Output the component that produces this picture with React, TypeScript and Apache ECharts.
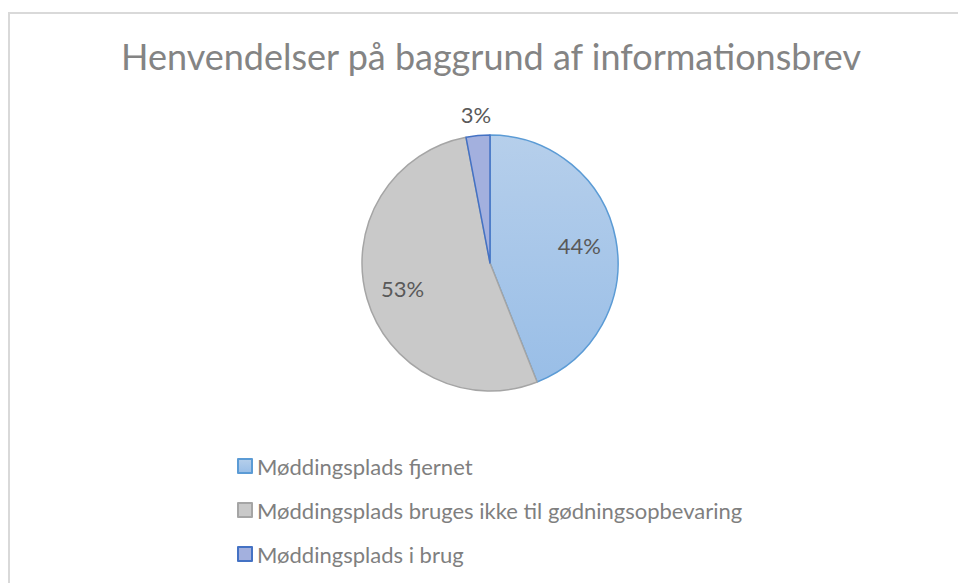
import React, { useEffect, useRef } from "react";
import * as echarts from "echarts";

const titleText = "Henvendelser på baggrund af informationsbrev";
const categories = [
  "Møddingsplads fjernet",
  "Møddingsplads bruges ikke til gødningsopbevaring",
  "Møddingsplads i brug",
];
const values = [44, 53, 3];

const fills: any[] = [
  new echarts.graphic.LinearGradient(0, 0, 0, 1, [
    { offset: 0, color: "#b6cfeb" },
    { offset: 1, color: "#99bee7" },
  ]),
  "#c9c9c9",
  "#a3b0de",
];
const borders = ["#5b9bd5", "#a5a5a5", "#4472c4"];

export default function App() {
  const ref = useRef<HTMLDivElement>(null);
  useEffect(() => {
    document.body.style.margin = "0";
    const chart = echarts.init(ref.current!, undefined, { renderer: "svg" });
    const font = "Lato, 'Open Sans', sans-serif";
    const mainData = categories.map((name, i) => ({
      name,
      value: values[i],
      itemStyle: { color: fills[i], borderColor: borders[i], borderWidth: 1.5 },
    }));
    const ghost = (showIdx: number[]) =>
      categories.map((name, i) => ({
        name,
        value: values[i],
        itemStyle: { color: "transparent", borderWidth: 0 },
        label: { show: showIdx.includes(i) },
      }));
    const labelStyle = {
      position: "inside" as const,
      formatter: (p: any) => `${p.value}%`,
      color: "#595959",
      fontSize: 22,
      fontFamily: font,
    };
    chart.setOption({
      animation: false,
      backgroundColor: "#ffffff",
      title: {
        text: titleText,
        left: 116,
        top: 33,
        textStyle: { color: "#848484", fontSize: 36, fontWeight: "normal", fontFamily: font },
      },
      legend: {
        orient: "vertical",
        left: 232,
        top: 449,
        itemWidth: 14,
        itemHeight: 14,
        itemGap: 20,
        icon: "rect",
        selectedMode: false,
        data: categories,
        textStyle: { color: "#7f7f7f", fontSize: 22, fontFamily: font, lineHeight: 24 },
      },
      graphic: [
        {
          type: "rect",
          shape: { x: 9, y: 13, width: 1200, height: 1000 },
          style: { fill: "none", stroke: "#d9d9d9", lineWidth: 2 },
          silent: true,
        },
      ],
      series: [
        {
          type: "pie",
          center: [490, 263],
          radius: [0, 128],
          startAngle: 90,
          clockwise: true,
          silent: true,
          label: { show: false },
          labelLine: { show: false },
          data: mainData,
        },
        {
          type: "pie",
          center: [490, 263],
          radius: [0, 176],
          startAngle: 90,
          clockwise: true,
          silent: true,
          z: 3,
          label: labelStyle,
          labelLine: { show: false },
          data: ghost([0, 1]),
        },
        {
          type: "pie",
          center: [490, 263],
          radius: [118, 174],
          startAngle: 90,
          clockwise: true,
          silent: true,
          z: 3,
          label: labelStyle,
          labelLine: { show: false },
          data: ghost([2]),
        },
      ],
    });
    return () => chart.dispose();
  }, []);
  return <div ref={ref} style={{ width: 958, height: 583 }} />;
}
